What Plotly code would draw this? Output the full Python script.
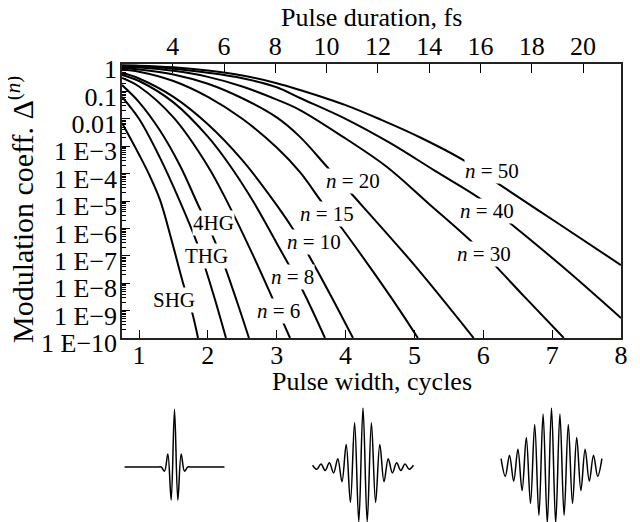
import plotly.graph_objects as go

W, H = 640, 522
FONT = "Liberation Serif"

# ---------------- data ----------------
# x = pulse width in cycles, y = log10 of modulation coefficient
shg_x = [0.753, 1.0, 1.15, 1.305, 1.47, 1.639, 1.77, 1.857]
shg_y = [-2.15, -3.3, -4.05, -4.96, -6.4, -7.99, -9.05, -10.0]

thg_x = [0.753, 1.0, 1.3, 1.6, 1.842, 1.958, 2.1, 2.263]
thg_y = [-1.2, -2.0, -3.4, -5.05, -6.53, -7.41, -8.57, -10.0]

hg4_x = [0.753, 1.0, 1.3, 1.6, 1.85, 2.075, 2.249, 2.42, 2.597]
hg4_y = [-0.77, -1.39, -2.41, -3.73, -5.1, -6.31, -7.41, -8.65, -10.0]

n6_x = [0.753, 1.0, 1.5, 2.0, 2.285, 2.65, 3.0, 3.193]
n6_y = [-0.51, -0.82, -1.95, -3.73, -5.05, -6.95, -8.9, -10.0]

n8_x = [0.753, 1.0, 1.5, 2.0, 2.3, 2.655, 3.0, 3.352, 3.701]
n8_y = [-0.4, -0.62, -1.4, -2.65, -3.63, -5.0, -6.54, -8.14, -10.0]

n10_x = [0.753, 1.0, 1.5, 2.0, 2.5, 3.0, 3.265, 3.454, 3.8, 4.108]
n10_y = [-0.32, -0.53, -1.2, -2.2, -3.51, -5.15, -6.13, -6.93, -8.52, -10.0]

n15_x = [0.753, 1.0, 1.5, 2.0, 2.5, 3.0, 3.338, 3.657, 3.962, 4.4, 4.79, 5.05]
n15_y = [-0.2, -0.28, -0.62, -1.2, -2.0, -3.05, -3.95, -5.05, -6.05, -7.58, -9.0, -10.0]

n20_x = [0.753, 1.0, 1.5, 2.0, 2.5, 3.0, 3.338, 3.73, 4.108, 5.0, 5.86]
n20_y = [-0.15, -0.2, -0.38, -0.72, -1.25, -1.95, -2.66, -3.75, -4.8, -7.34, -10.0]

n30_x = [0.753, 1.0, 1.5, 2.0, 2.5, 3.0, 3.338, 4.0, 4.597, 5.2, 5.85, 6.17, 6.6, 7.17]
n30_y = [-0.1, -0.13, -0.25, -0.47, -0.82, -1.3, -1.68, -2.72, -3.75, -5.08, -6.53, -7.35, -8.5, -10.0]

n40_x = [0.753, 1.0, 1.5, 2.0, 2.5, 3.0, 3.338, 4.0, 4.645, 5.3, 5.981, 6.387, 7.2, 8.0]
n40_y = [-0.07, -0.09, -0.17, -0.32, -0.52, -0.85, -1.24, -2.0, -2.88, -3.9, -4.96, -5.8, -7.5, -9.27]

n50_x = [0.753, 1.0, 1.5, 2.0, 2.5, 3.0, 3.338, 4.0, 4.52, 5.1, 5.705, 6.199, 7.1, 8.0]
n50_y = [-0.05, -0.06, -0.12, -0.24, -0.42, -0.7, -0.95, -1.5, -2.04, -2.7, -3.5, -4.34, -5.84, -7.34]

curve_labels = ["SHG", "THG", "4HG", "<i>n</i> = 6", "<i>n</i> = 8", "<i>n</i> = 10",
                "<i>n</i> = 15", "<i>n</i> = 20", "<i>n</i> = 30", "<i>n</i> = 40", "<i>n</i> = 50"]

x_ticks = [1, 2, 3, 4, 5, 6, 7, 8]
fs_ticks = [4, 6, 8, 10, 12, 14, 16, 18, 20]
fs_per_cycle = 2.685
y_tick_exps = [0, -1, -2, -3, -4, -5, -6, -7, -8, -9, -10]
y_tick_text = ["1", "0.1", "0.01", "1 E\u22123", "1 E\u22124", "1 E\u22125", "1 E\u22126",
               "1 E\u22127", "1 E\u22128", "1 E\u22129", "1 E\u221210"]

# pulse shapes below the chart: successive half-cycle extrema (peak = 1)
pulse1_amp = [0, 0, 0, 0, 0, 0, 0, 0, 0, 0, 0, 0,
              -0.07, 0.22, -0.56, 0.98, -0.56, 0.22, -0.07,
              0, 0, 0, 0, 0, 0, 0, 0, 0, 0, 0, 0]
pulse2_amp = [0.03, -0.04, 0.05, -0.06, 0.07, -0.1, 0.14, -0.25, 0.38, -0.6, 0.75, -0.93,
              1.0, -0.93, 0.75, -0.6, 0.38, -0.25, 0.14, -0.1, 0.07, -0.06, 0.05, -0.04, 0.03]
pulse3_amp = [0.14, -0.16, 0.2, -0.24, 0.3, -0.4, 0.5, -0.62, 0.72, -0.82, 0.9, -0.95,
              1.0, -0.95, 0.9, -0.82, 0.72, -0.62, 0.5, -0.4, 0.3, -0.24, 0.2, -0.16, 0.14]

# ---------------- layout constants (pixels in the page) ----------------
OFF = 8  # the page body adds an 8 px margin; positions below are page pixels
PL, PR, PT, PB = 122 - OFF, 621 - OFF, 64 - OFF, 338 - OFF
X_MIN, X_MAX = 0.753, 8.0


def px(x):
    return (x - OFF) / W


def py(y):
    return 1 - (y - OFF) / H


curves = [(shg_x, shg_y), (thg_x, thg_y), (hg4_x, hg4_y), (n6_x, n6_y), (n8_x, n8_y),
          (n10_x, n10_y), (n15_x, n15_y), (n20_x, n20_y), (n30_x, n30_y),
          (n40_x, n40_y), (n50_x, n50_y)]

# label centres in data units (x cycles, log10 y)
label_pos = [(1.508, -8.61), (1.987, -7.0), (2.089, -5.8), (3.019, -9.0), (3.222, -7.77),
             (3.541, -6.5), (3.73, -5.47), (4.108, -4.27), (6.01, -6.93), (6.054, -5.36),
             (6.126, -3.9)]

fig = go.Figure()

for (cx, cy), name in zip(curves, curve_labels):
    fig.add_trace(go.Scatter(
        x=cx, y=[10 ** v for v in cy], mode="lines", name=name,
        line=dict(color="black", width=2, shape="spline", smoothing=1),
        xaxis="x", yaxis="y", showlegend=False, hoverinfo="skip"))

# empty trace that carries the top (femtosecond) axis
fig.add_trace(go.Scatter(x=fs_ticks, y=[None] * len(fs_ticks), mode="lines",
                         xaxis="x2", yaxis="y", showlegend=False, hoverinfo="skip"))

# pulses
pulse_centers = [174.5, 363.0, 551.5]
pulse_half_periods = [3.33, 4.2, 4.2]
pulse_half_width = 55
for k, (amp, c, hp) in enumerate(zip([pulse1_amp, pulse2_amp, pulse3_amp],
                                     pulse_centers, pulse_half_periods)):
    m = len(amp) // 2
    idx = [i - m for i in range(len(amp))]
    ax = k + 3
    fig.add_trace(go.Scatter(
        x=idx, y=amp, mode="lines",
        line=dict(color="black", width=1.5, shape="spline", smoothing=1.0),
        xaxis=f"x{ax}", yaxis=f"y{ax}", showlegend=False, hoverinfo="skip"))
    rng = pulse_half_width / hp
    fig.layout[f"xaxis{ax}"] = dict(domain=[px(c - pulse_half_width), px(c + pulse_half_width)],
                                    range=[-rng, rng], visible=False, anchor=f"y{ax}")
    fig.layout[f"yaxis{ax}"] = dict(domain=[py(522), py(400)], range=[-55 / 59, 67 / 59],
                                    visible=False, anchor=f"x{ax}")

minor_vals = [m * 10.0 ** e for e in range(-10, 0) for m in range(2, 10)]

axis_font = dict(family=FONT, size=26, color="black")
fig.update_layout(
    width=W, height=H,
    margin=dict(l=0, r=0, t=0, b=0),
    paper_bgcolor="white", plot_bgcolor="white",
    xaxis=dict(domain=[PL / W, PR / W], range=[X_MIN, X_MAX], anchor="y",
               tickmode="array", tickvals=x_ticks, ticks="inside", ticklen=8,
               tickwidth=1.2, tickcolor="black",
               showline=True, linecolor="#222", linewidth=1.5, mirror=True,
               showgrid=False, zeroline=False, tickfont=axis_font,
               ticklabelstandoff=-7, automargin=False),
    xaxis2=dict(overlaying="x", side="top", anchor="y",
                range=[X_MIN * fs_per_cycle, X_MAX * fs_per_cycle],
                tickmode="array", tickvals=fs_ticks, ticks="inside", ticklen=9,
                tickwidth=1.2, tickcolor="black",
                showline=True, linecolor="#222", linewidth=1.5,
                showgrid=False, zeroline=False, tickfont=axis_font,
                ticklabelstandoff=-3, automargin=False),
    yaxis=dict(domain=[1 - PB / H, 1 - PT / H], type="log", range=[-10, 0], anchor="x",
               tickmode="array", tickvals=[10.0 ** e for e in y_tick_exps], ticktext=y_tick_text,
               ticks="inside", ticklen=8, tickwidth=1.2, tickcolor="black",
               minor=dict(tickmode="array", tickvals=minor_vals, ticks="inside", ticklen=4,
                          tickwidth=1, tickcolor="black", showgrid=False),
               showline=True, linecolor="#222", linewidth=1.5, mirror=True,
               showgrid=False, zeroline=False, tickfont=axis_font,
               ticklabelstandoff=-2, ticklabelshift=5, automargin=False),
)

annotations = []
for (lx, ly), name in zip(label_pos, curve_labels):
    annotations.append(dict(x=lx, y=ly, xref="x", yref="y", text=name, showarrow=False,
                            font=dict(family=FONT, size=21, color="black"),
                            bgcolor="white", borderpad=0, xanchor="center", yanchor="middle"))

annotations.append(dict(x=px(371.5), y=py(17), xref="paper", yref="paper",
                        text="Pulse duration, fs", showarrow=False,
                        font=dict(family=FONT, size=26, color="black"),
                        xanchor="center", yanchor="middle"))
annotations.append(dict(x=px(371.5), y=py(381), xref="paper", yref="paper",
                        text="Pulse width, cycles", showarrow=False,
                        font=dict(family=FONT, size=26, color="black"),
                        xanchor="center", yanchor="middle"))
annotations.append(dict(x=px(20), y=py(210), xref="paper", yref="paper",
                        text="Modulation coeff. \u0394<sup>(<i>n</i>)</sup>", showarrow=False,
                        font=dict(family=FONT, size=30, color="black"),
                        textangle=-90, xanchor="center", yanchor="middle"))
fig.update_layout(annotations=annotations)

fig.write_html("out.html")
